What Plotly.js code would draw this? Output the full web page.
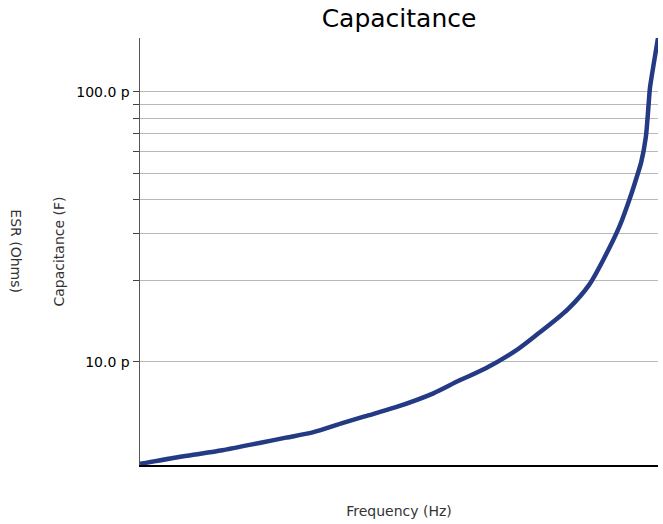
<!DOCTYPE html>
<html>
<head>
<meta charset="utf-8">
<script src="https://cdn.plot.ly/plotly-3.0.1.min.js"></script>
<style>html,body{margin:0;padding:0;background:#fff;}#chart{width:663px;height:524px;}</style>
</head>
<body>
<div id="chart"></div>
<script>
// Frequency (Hz) samples
const frequencyHz = [1.0e6, 1.5e6, 2e6, 3e6, 5e6, 7e6, 1e7, 1.5e7, 2e7, 3e7, 5e7, 7e7, 1e8, 1.5e8, 2e8, 3e8, 4e8, 5e8, 6e8, 7e8, 7.5e8, 8e8, 8.5e8, 8.7e8, 8.9e8, 9e8, 9.5e8, 1e9];
// Capacitance (pF)
const capacitancePF = [4.19, 4.39, 4.52, 4.71, 5.02, 5.24, 5.48, 5.94, 6.28, 6.78, 7.65, 8.51, 9.45, 11.0, 12.65, 15.65, 19.33, 25.0, 31.9, 41.8, 48.0, 55.1, 68.0, 80.0, 97.0, 104.5, 130.0, 158.5];
// Y tick values (pF) and labels
const yTickVals = [10, 20, 30, 40, 50, 60, 70, 80, 90, 100];
const yTickText = ["10.0 p", "", "", "", "", "", "", "", "", "100.0 p"];

const trace = {
  x: frequencyHz,
  y: capacitancePF,
  type: 'scatter',
  mode: 'lines',
  line: {color: '#253a84', width: 4.5, shape: 'spline', smoothing: 0.8},
  hoverinfo: 'skip'
};

const layout = {
  width: 663, height: 524,
  margin: {l: 140, r: 5, t: 38, b: 59},
  paper_bgcolor: '#fff', plot_bgcolor: '#fff',
  font: {family: 'DejaVu Sans', color: '#000'},
  showlegend: false,
  title: {text: 'Capacitance', font: {size: 25, color: '#000'}, x: 0.5, xref: 'paper', y: 0.965, yref: 'container', yanchor: 'middle'},
  xaxis: {
    type: 'log', range: [6, 9],
    showticklabels: false, ticks: '', showgrid: false, zeroline: false,
    showline: true, linecolor: '#000', linewidth: 1.5,
    title: {text: 'Frequency (Hz)', font: {size: 14, color: '#333'}, standoff: 40}
  },
  yaxis: {
    type: 'log', range: [Math.log10(4.15), Math.log10(158.5)],
    tickmode: 'array', tickvals: yTickVals, ticktext: yTickText,
    ticks: 'outside', ticklen: 6, tickcolor: '#444', tickwidth: 1,
    tickfont: {size: 14, color: '#000'},
    showgrid: true, gridcolor: '#b8b8b8', gridwidth: 1,
    showline: true, linecolor: '#555', linewidth: 1.5, zeroline: false,
    title: {text: 'Capacitance (F)', font: {size: 14, color: '#333'}, standoff: 8}
  },
  annotations: [{
    text: 'ESR (Ohms)', xref: 'paper', yref: 'paper', x: -0.239, y: 0.5,
    xanchor: 'center', yanchor: 'middle', textangle: 90, showarrow: false,
    font: {size: 14, color: '#333', family: 'DejaVu Sans'}
  }]
};

Plotly.newPlot('chart', [trace], layout, {displayModeBar: false, staticPlot: true});
</script>
</body>
</html>
